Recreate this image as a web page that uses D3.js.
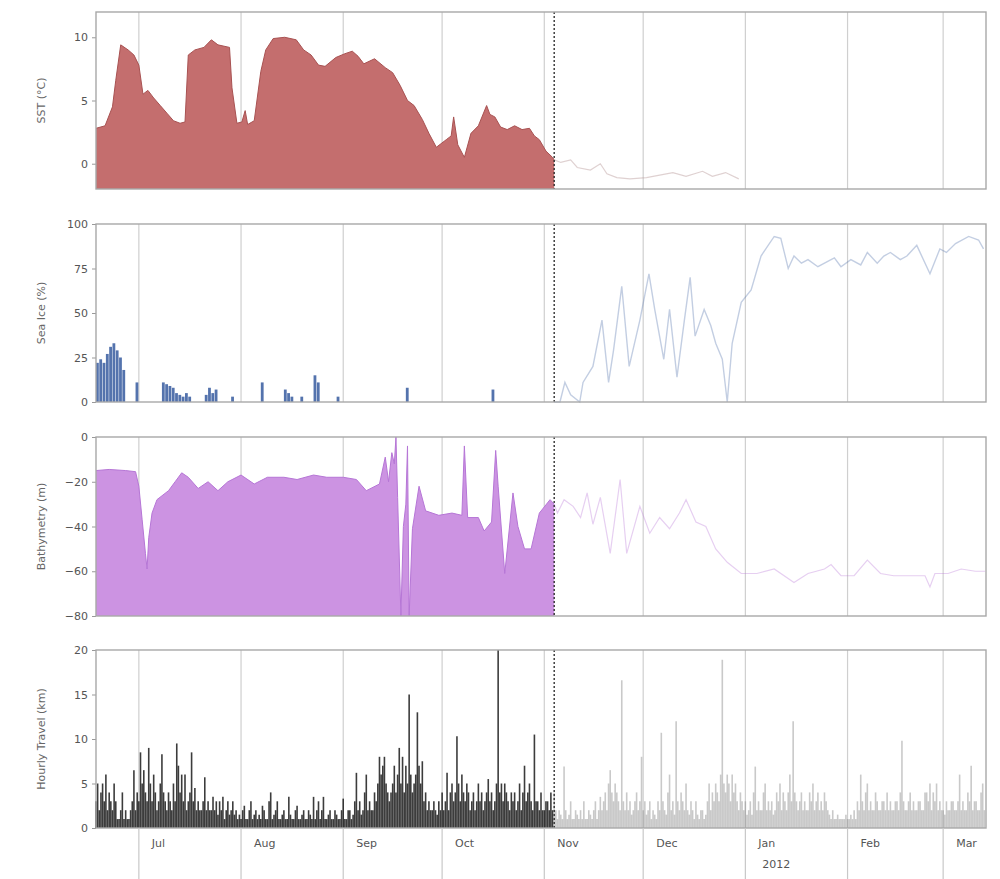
<!DOCTYPE html>
<html>
<head>
<meta charset="utf-8">
<script src="https://cdn.jsdelivr.net/npm/d3@7"></script>
<style>
  body { margin: 0; background: #fff; }
  svg { display: block; font-family: "DejaVu Sans", sans-serif; }
</style>
</head>
<body>
<svg id="chart" width="1000" height="879"></svg>
<script>
// ---- time frame -------------------------------------------------------
const startDate = "2011-06-18";
const endDate = "2012-03-14";
const splitDate = "2011-11-04";   // tag deployment / tracking change marker

// ---- sea surface temperature (°C) ------------------------------------
const sstDates = ["2011-06-18","2011-06-20T18","2011-06-23","2011-06-24","2011-06-25T12","2011-06-27T18","2011-06-29T12","2011-07-01","2011-07-02T06","2011-07-03T18","2011-07-05T12","2011-07-07T12","2011-07-09T12","2011-07-11T12","2011-07-13T12","2011-07-15","2011-07-16","2011-07-18","2011-07-20T18","2011-07-23","2011-07-25","2011-07-28T12","2011-07-29T06","2011-07-30T18","2011-08-01T06","2011-08-02T06","2011-08-03","2011-08-05","2011-08-07","2011-08-08T12","2011-08-10T18","2011-08-14T06","2011-08-17T18","2011-08-20","2011-08-22T06","2011-08-24T12","2011-08-26T12","2011-08-29T18","2011-09-01T12","2011-09-03T18","2011-09-05T12","2011-09-07T06","2011-09-10T12","2011-09-13T18","2011-09-16","2011-09-18T06","2011-09-20T12","2011-09-22T12","2011-09-25","2011-09-27","2011-09-29T06","2011-10-02T06","2011-10-03T18","2011-10-04T12","2011-10-05T18","2011-10-07T18","2011-10-09T18","2011-10-12","2011-10-14T12","2011-10-15T12","2011-10-17","2011-10-18T18","2011-10-20T18","2011-10-23","2011-10-25T06","2011-10-27T12","2011-10-29","2011-10-30T12","2011-11-01T12","2011-11-03T12","2011-11-04"];
const sstValues = [2.8,3.0,4.5,6.6,9.4,9.0,8.6,7.8,5.5,5.8,5.2,4.6,4.0,3.4,3.2,3.3,8.6,9.0,9.2,9.8,9.4,9.2,6.0,3.2,3.3,4.2,3.1,3.4,7.3,9.0,9.9,10.0,9.8,9.0,8.6,7.8,7.7,8.4,8.7,8.9,8.5,7.9,8.3,7.6,7.2,6.2,5.0,4.6,3.5,2.4,1.3,1.9,2.2,3.7,1.5,0.5,2.4,3.0,4.6,3.9,3.7,2.9,2.7,3.0,2.7,2.8,2.2,1.9,1.0,0.5,0.3];
const sstLateDates = ["2011-11-04","2011-11-06","2011-11-09","2011-11-11","2011-11-15","2011-11-18","2011-11-20","2011-11-23","2011-11-27","2011-12-02","2011-12-06","2011-12-10","2011-12-14","2011-12-19","2011-12-22","2011-12-26","2011-12-30"];
const sstLateValues = [0.3,0.1,0.3,-0.3,-0.5,0.0,-0.8,-1.1,-1.2,-1.1,-0.9,-0.7,-1.0,-0.6,-1.0,-0.7,-1.2];

// ---- sea ice concentration (%) ---------------------------------------
const iceDates = ["2011-06-18","2011-06-19","2011-06-20","2011-06-21","2011-06-22","2011-06-23","2011-06-24","2011-06-25","2011-06-26","2011-06-30","2011-07-08","2011-07-09","2011-07-10","2011-07-11","2011-07-12","2011-07-13","2011-07-14","2011-07-15","2011-07-16","2011-07-21","2011-07-22","2011-07-23","2011-07-24","2011-07-29","2011-08-07","2011-08-14","2011-08-15","2011-08-16","2011-08-19","2011-08-23","2011-08-24","2011-08-30","2011-09-20","2011-10-16"];
const iceValues = [22,24,22,27,31,33,29,25,18,11,11,10,9,8,5,4,3,5,3,4,8,5,7,3,11,7,5,3,3,15,11,3,8,7];
const iceLateDates = ["2011-11-04","2011-11-05T18","2011-11-07T06","2011-11-09","2011-11-11T18","2011-11-12T18","2011-11-15T18","2011-11-18T12","2011-11-20T12","2011-11-22","2011-11-24T12","2011-11-26T18","2011-11-30","2011-12-02T18","2011-12-04T12","2011-12-07T06","2011-12-09","2011-12-11T06","2011-12-13T12","2011-12-15T06","2011-12-16T18","2011-12-19T12","2011-12-21T12","2011-12-23","2011-12-25","2011-12-26T12","2011-12-28","2011-12-30T18","2012-01-02T18","2012-01-05T18","2012-01-09T18","2012-01-11T18","2012-01-14","2012-01-15T18","2012-01-18","2012-01-20","2012-01-23","2012-01-25","2012-01-28","2012-01-30","2012-02-02","2012-02-05","2012-02-07","2012-02-10","2012-02-12","2012-02-14","2012-02-17","2012-02-19","2012-02-22","2012-02-26","2012-02-29","2012-03-02","2012-03-04T18","2012-03-08T18","2012-03-11T18","2012-03-13T06"];
const iceLateValues = [0,0,11,4,0,11,20,46,11,29,65,20,46,72,52,24,52,14,46,70,37,52,43,33,24,0,33,56,63,82,93,92,75,82,78,80,76,78,81,76,80,77,84,78,82,84,80,82,88,72,86,84,89,93,91,86];

// ---- bathymetry under the animal (m) ---------------------------------
const bathyDates = ["2011-06-18","2011-06-22","2011-06-27","2011-06-30","2011-07-01","2011-07-02","2011-07-03","2011-07-03T12","2011-07-04","2011-07-05","2011-07-06T12","2011-07-10","2011-07-12","2011-07-14","2011-07-16","2011-07-19","2011-07-22","2011-07-25","2011-07-28","2011-08-01","2011-08-05","2011-08-09","2011-08-14","2011-08-18","2011-08-23","2011-08-27","2011-09-01","2011-09-05","2011-09-08","2011-09-12","2011-09-13T18","2011-09-14T18","2011-09-15T18","2011-09-16T12","2011-09-17","2011-09-17T12","2011-09-18T12","2011-09-19T06","2011-09-20","2011-09-20T12","2011-09-21","2011-09-22","2011-09-24","2011-09-26","2011-09-30","2011-10-04","2011-10-07","2011-10-07T18","2011-10-08T18","2011-10-12","2011-10-13T18","2011-10-16","2011-10-17T06","2011-10-18","2011-10-20","2011-10-22T12","2011-10-24","2011-10-26","2011-10-28","2011-10-30T12","2011-11-02T18","2011-11-04"];
const bathyValues = [-15,-14.5,-15,-15.5,-22,-37,-52,-59,-45,-34,-28,-24,-20,-16,-18,-23,-20,-24,-20,-17,-21,-18,-18,-19,-17,-18,-18,-19,-24,-21,-9,-20,-7,-12,0,-27,-80,-40,-30,-4,-80,-41,-22,-33,-35,-34,-35,-4,-36,-36,-42,-38,-6,-22,-61,-25,-40,-50,-50,-34,-28,-30];
const bathyLateDates = ["2011-11-04","2011-11-05","2011-11-07","2011-11-09T18","2011-11-12","2011-11-14","2011-11-15T18","2011-11-18","2011-11-21","2011-11-24","2011-11-26","2011-11-30","2011-12-03","2011-12-06","2011-12-09","2011-12-12","2011-12-14","2011-12-17","2011-12-20","2011-12-23","2011-12-26T12","2011-12-30T18","2012-01-04T12","2012-01-09T18","2012-01-15T18","2012-01-20","2012-01-25","2012-01-27","2012-01-30","2012-02-03","2012-02-07","2012-02-11","2012-02-15","2012-02-19","2012-02-24T12","2012-02-26","2012-02-27T12","2012-03-02T12","2012-03-06T12","2012-03-10T18","2012-03-13T18"];
const bathyLateValues = [-30,-34,-28,-31,-36,-25,-39,-27,-52,-19,-52,-31,-43,-36,-41,-34,-28,-38,-40,-50,-56,-61,-61,-59,-65,-61,-59,-57,-62,-62,-55,-61,-62,-62,-62,-67,-61,-61,-59,-60,-60];

// ---- hourly travel distance (km), sampled every 12 h -------------------
const travelBefore = [
  3,5, 2,4, 5,3, 6,2, 4,3, 2,5, 3,1, 1,2, 4,1, 2,1,
  1,2, 3,6.5, 2,4, 3,8.5, 5,6.5, 4,3, 9,5, 3,6, 4,2, 3,5,
  8.3,4, 3,2, 4,3, 2,5, 3,9.5, 7,4, 6,3, 6,2, 3,4, 8.5,3,
  4.5,2, 3,2, 2,3, 5.7,2, 3,2, 2,3.5, 2,3, 1.5,3, 2,3.5, 1,2,
  3,1.5, 2,3, 1.5,2, 1,1.5, 1,2, 2.5,1, 1,2, 3,1, 1.5,2, 1,1.5,
  1,2.5, 2,1, 1,3, 4,1, 1.5,2, 3,1, 1,1.5, 2,1, 1,3.5, 1.5,1,
  1,2, 2.5,1, 1,1.5, 2,1, 1,2, 1.5,1, 3.5,1, 2,3, 1,2, 3.5,1,
  1,1.5, 2,1, 1,2, 1.5,1, 1,2, 3.3,1, 1,2, 2,1, 1.5,3, 6.2,2,
  3,1.5, 2,4, 6,2, 3,2, 2,4, 3,5, 8,6, 7,8, 5,4, 3,4,
  5,7, 4,6, 9,5, 8,4, 7,5, 15,6, 4,5, 6,13, 7,5, 7.5,3,
  4,2, 3,2, 2,3, 2,1.5, 3,2, 4,2, 3,6.2, 2,4, 5,3, 4,10.3,
  5,3, 6,4, 3,5, 4,2, 3,4, 2,3, 5,3, 4,2, 3,4, 5.5,3,
  4,2, 3,5, 20,4, 5,3, 5,4, 3,2, 4,3, 4,2, 3,5, 2,4,
  7,3, 4,5, 3,2, 10.5,3, 3,2, 4,2, 2,3, 3,2, 4,2
];
const travelAfter = [
  4,2, 1,2, 1.5,1, 6.9,2, 1,1.5, 3,1, 1,2, 1.5,1, 2,1, 3,1,
  1,2, 1.5,1, 2,3, 1,2, 3.5,2, 3,4, 2,5, 6.5,4, 3,5, 4,3,
  2,16.6, 3,2, 4,2, 3,1.5, 2,3, 4,2, 3,8, 2,3, 1.5,2, 3,1,
  2,1.5, 1,3, 2,10.7, 3,2, 1.5,4, 6,2, 3,1.5, 12,3, 2,4, 3,2,
  5,2, 1.5,3, 2,1, 3,1.5, 1,2, 2,1, 1.5,3, 5,2, 4,3, 5,4,
  3,6, 18.9,5, 4,6, 5,3, 6,4, 5,3, 2,4, 3,2, 3,1.5, 2,3,
  1.5,4, 6.9,2, 3,2, 2,4, 5,2, 3,2, 3,1.5, 2,4, 3,5, 2,4,
  3,2, 4,6, 3,12, 4,3, 2,3, 4,2, 3,2, 2,4, 3,5, 2,3,
  4,2, 3,2, 4,3, 2,1.5, 1,2, 1,1, 1.5,1, 1,1, 1,1.5, 1,1,
  1.5,1, 2,1, 3,2, 6,3, 2,4, 5,2, 3,2, 2,4, 3,2, 2,3,
  3,2, 4,2, 3,2, 2,3, 3,2, 4,9.8, 3,2, 2,3, 4,2, 3,2,
  2,3, 3,2, 2,4, 4,3, 5,2, 4,3, 5,2, 3,2, 2,1.5, 3,2,
  2,3, 3,2, 2,3, 6,2, 3,2, 2,4, 3,7, 2,3, 3,2, 2,4,
  5,2
];

// ---- axis ticks ------------------------------------------------------
const sstTicks = [0, 5, 10];
const iceTicks = [0, 25, 50, 75, 100];
const bathyTicks = [-80, -60, -40, -20, 0];
const travelTicks = [0, 5, 10, 15, 20];

// ---- helpers ---------------------------------------------------------
const parse = s => d3.isoParse(s.length === 10 ? s + "T00:00Z" : s + ":00Z");
const zip = (ds, vs) => ds.map((d, i) => ({ t: parse(d), v: vs[i] }));
const HALF_DAY = 12 * 3600 * 1000;
const series12h = (start, vs) => vs.map((v, i) => ({ t: new Date(parse(start).getTime() + i * HALF_DAY), v }));

const svg = d3.select("#chart");
const left = 96, right = 986;
const x = d3.scaleUtc().domain([parse(startDate), parse(endDate)]).range([left, right]);
const split = parse(splitDate);
const months = d3.utcMonth.range(d3.utcMonth.ceil(parse(startDate)), parse(endDate));

const panels = [
  { top: 12, bottom: 189, domain: [-2, 12], ticks: sstTicks, title: "SST (°C)" },
  { top: 224, bottom: 402, domain: [0, 100], ticks: iceTicks, title: "Sea Ice (%)" },
  { top: 437, bottom: 616, domain: [-80, 0], ticks: bathyTicks, title: "Bathymetry (m)" },
  { top: 650, bottom: 828, domain: [0, 20], ticks: travelTicks, title: "Hourly Travel (km)" }
];
panels.forEach(p => { p.y = d3.scaleLinear().domain(p.domain).range([p.bottom, p.top]); });

const fmtTick = d3.format("d");
const minusFmt = v => (v < 0 ? "\u2212" + fmtTick(-v) : fmtTick(v));

// grid, ticks and titles for every panel
panels.forEach(p => {
  const g = svg.append("g");
  g.selectAll("line.grid").data(months).join("line")
    .attr("x1", d => x(d)).attr("x2", d => x(d))
    .attr("y1", p.top).attr("y2", p.bottom)
    .attr("stroke", "#cfcfcf").attr("stroke-width", 1.2);

  const axis = d3.axisLeft(p.y).tickValues(p.ticks).tickSize(4).tickPadding(4).tickFormat(minusFmt);
  const ag = svg.append("g").attr("transform", `translate(${left},0)`).call(axis);
  ag.select(".domain").remove();
  ag.selectAll(".tick line").attr("stroke", "#999");
  ag.selectAll(".tick text").attr("fill", "#555").style("font-size", "11px")
    .style("font-family", "DejaVu Sans, sans-serif");

  svg.append("text")
    .attr("transform", `translate(45,${(p.top + p.bottom) / 2}) rotate(-90)`)
    .attr("text-anchor", "middle").attr("fill", "#666").style("font-size", "11px")
    .text(p.title);
  p.g = svg.append("g");
});

// panel 1: SST filled to the axis floor, then faint line
{
  const p = panels[0];
  const area = d3.area().x(d => x(d.t)).y0(p.y(p.domain[0])).y1(d => p.y(d.v));
  const line = d3.line().x(d => x(d.t)).y(d => p.y(d.v));
  const data = zip(sstDates, sstValues);
  p.g.append("path").datum(data).attr("d", area).attr("fill", "#c46e6e");
  p.g.append("path").datum(data).attr("d", line).attr("fill", "none").attr("stroke", "#a85252").attr("stroke-width", 1);
  p.g.append("path").datum(zip(sstLateDates, sstLateValues)).attr("d", line)
    .attr("fill", "none").attr("stroke", "#b89a9a").attr("stroke-opacity", 0.45).attr("stroke-width", 1.2);
}

// panel 2: sea ice bars, then faint line
{
  const p = panels[1];
  const dayW = x(parse("2011-07-02")) - x(parse("2011-07-01"));
  p.g.selectAll("rect").data(zip(iceDates, iceValues)).join("rect")
    .attr("x", d => x(d.t)).attr("width", dayW * 0.85)
    .attr("y", d => p.y(d.v)).attr("height", d => p.y(0) - p.y(d.v))
    .attr("fill", "#5473ad");
  const line = d3.line().x(d => x(d.t)).y(d => p.y(d.v));
  p.g.append("path").datum(zip(iceLateDates, iceLateValues)).attr("d", line)
    .attr("fill", "none").attr("stroke", "#5473ad").attr("stroke-opacity", 0.35).attr("stroke-width", 1.4);
}

// panel 3: bathymetry filled from the floor, then faint line
{
  const p = panels[2];
  const area = d3.area().x(d => x(d.t)).y0(p.y(p.domain[0])).y1(d => p.y(d.v));
  const line = d3.line().x(d => x(d.t)).y(d => p.y(d.v));
  const data = zip(bathyDates, bathyValues);
  p.g.append("path").datum(data).attr("d", area).attr("fill", "#cc93e2");
  p.g.append("path").datum(data).attr("d", line).attr("fill", "none").attr("stroke", "#b676d6").attr("stroke-width", 1);
  p.g.append("path").datum(zip(bathyLateDates, bathyLateValues)).attr("d", line)
    .attr("fill", "none").attr("stroke", "#b676d6").attr("stroke-opacity", 0.35).attr("stroke-width", 1.2);
}

// panel 4: travel distance as vertical stems
{
  const p = panels[3];
  p.g.selectAll("line.before").data(series12h(startDate, travelBefore)).join("line")
    .attr("class", "before")
    .attr("x1", d => x(d.t)).attr("x2", d => x(d.t))
    .attr("y1", p.y(0)).attr("y2", d => p.y(d.v))
    .attr("stroke", "#111").attr("stroke-opacity", 0.82).attr("stroke-width", 1.6);
  p.g.selectAll("line.after").data(series12h(splitDate, travelAfter)).join("line")
    .attr("class", "after")
    .attr("x1", d => x(d.t)).attr("x2", d => x(d.t))
    .attr("y1", p.y(0)).attr("y2", d => p.y(d.v))
    .attr("stroke", "#888").attr("stroke-opacity", 0.45).attr("stroke-width", 1.6);
}

// split marker and frames
panels.forEach(p => {
  svg.append("line")
    .attr("x1", x(split)).attr("x2", x(split)).attr("y1", p.top).attr("y2", p.bottom)
    .attr("stroke", "#222").attr("stroke-width", 1.3).attr("stroke-dasharray", "2,2");
  svg.append("rect")
    .attr("x", left).attr("y", p.top).attr("width", right - left).attr("height", p.bottom - p.top)
    .attr("fill", "none").attr("stroke", "#a8a8a8").attr("stroke-width", 1.4);
});

// bottom date axis: long month ticks with labels to the right
{
  const base = panels[3].bottom;
  const g = svg.append("g");
  g.selectAll("line").data(months).join("line")
    .attr("x1", d => x(d)).attr("x2", d => x(d))
    .attr("y1", base).attr("y2", base + 52)
    .attr("stroke", "#c8c8c8").attr("stroke-width", 1.2);
  g.selectAll("text.m").data(months).join("text")
    .attr("class", "m")
    .attr("x", d => x(d) + 13).attr("y", base + 19)
    .attr("fill", "#555").style("font-size", "11px")
    .text(d => d3.utcFormat("%b")(d));
  g.selectAll("text.yr").data(months.filter(d => d.getUTCMonth() === 0)).join("text")
    .attr("class", "yr")
    .attr("x", d => x(d) + 17).attr("y", base + 40)
    .attr("fill", "#555").style("font-size", "11px")
    .text(d => d3.utcFormat("%Y")(d));
}
</script>
</body>
</html>
